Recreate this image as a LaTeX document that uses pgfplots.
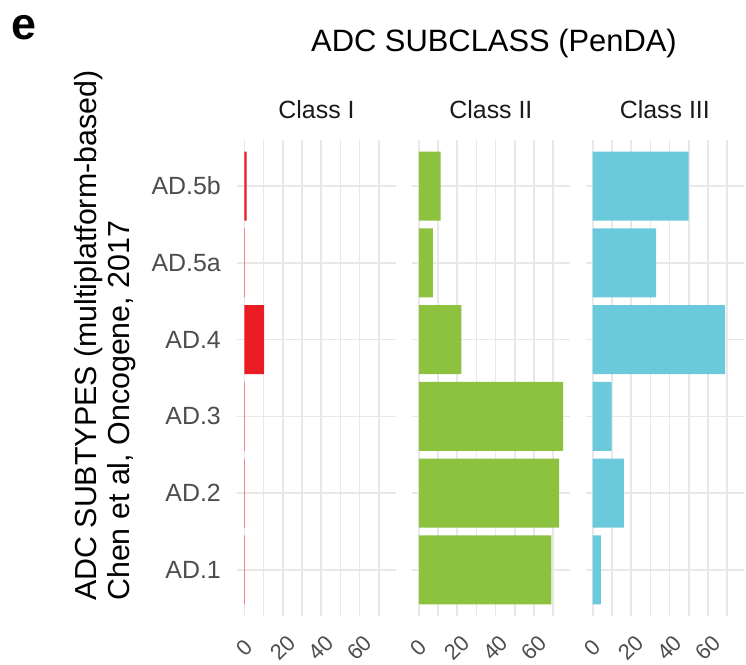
\documentclass[border=0pt]{standalone}
\usepackage{pgfplots}
\pgfplotsset{compat=1.18}
\usepackage{fontspec}
\setmainfont{Liberation Sans}
\definecolor{cI}{RGB}{234,29,36}
\definecolor{cII}{RGB}{141,194,62}
\definecolor{cIII}{RGB}{106,201,219}
\definecolor{gridc}{RGB}{232,232,232}
\definecolor{tickc}{RGB}{77,77,77}
\definecolor{stripc}{RGB}{26,26,26}

\pgfplotsset{
  panel/.style={
    scale only axis, width=158.4bp, height=476bp,
    anchor=north west,
    xbar, bar width=0.9, bar shift=0pt,
    xmin=-3.7, xmax=78.8, ymin=0.4, ymax=6.6,
    axis line style={draw=none},
    xtick={0,20,40,60}, minor xtick={10,30,50,70},
    ytick={1,...,6},
    major tick length=0pt, minor tick length=0pt,
    xmajorgrids, xminorgrids, ymajorgrids,
    major grid style={gridc, line width=1.6bp},
    minor grid style={gridc, line width=1.6bp},
    /pgf/number format/assume math mode=true,
    xticklabel style={yshift=-32bp, rotate=45, anchor=center, inner sep=0pt,
      font=\fontsize{22}{24}\selectfont, text=tickc},
    yticklabel style={anchor=east, xshift=-13bp,
      font=\fontsize{25}{28}\selectfont, text=tickc},
    title style={at={(0.5,1)}, anchor=base, yshift=16bp,
      font=\fontsize{25}{28}\selectfont, text=stripc},
    clip=false,
  },
}

\begin{document}
\begin{tikzpicture}[x=1bp,y=1bp]
\useasboundingbox (0,0) rectangle (746,-665);

% Class I
\begin{axis}[panel, at={(237.3bp,-140bp)}, title={Class I},
  yticklabels={AD.1,AD.2,AD.3,AD.4,AD.5a,AD.5b}]
\addplot[fill=cI, draw=none] coordinates {
  (0,1) (0,2) (0,3) (10.3,4) (0,5) (1.2,6)};
\addplot[draw=cI!55, line width=0.7bp, fill=none] coordinates {
  (0,1) (0,2) (0,3) (0,5)};
\end{axis}

% Class II
\begin{axis}[panel, at={(411.7bp,-140bp)}, title={Class II},
  yticklabels={}]
\addplot[fill=cII, draw=none] coordinates {
  (69.1,1) (73.1,2) (75.2,3) (22.2,4) (7.3,5) (11.3,6)};
\end{axis}

% Class III
\begin{axis}[panel, at={(585.6bp,-140bp)}, title={Class III},
  yticklabels={}]
\addplot[fill=cIII, draw=none] coordinates {
  (4.2,1) (16.2,2) (9.9,3) (69.0,4) (33.0,5) (50.0,6)};
\end{axis}

\node[anchor=base west, inner sep=0pt, font=\bfseries\fontsize{45}{48}\selectfont]
  at (11,-40) {e};
\node[anchor=base, inner sep=0pt, font=\fontsize{31}{34}\selectfont]
  at (494,-52) {ADC SUBCLASS (PenDA)};
\node[rotate=90, anchor=north west, inner sep=0pt, align=left,
  font=\fontsize{30.5}{33}\selectfont] at (74,-601)
  {ADC SUBTYPES (multiplatform-based)\\Chen et al, Oncogene, 2017};
\end{tikzpicture}
\end{document}
